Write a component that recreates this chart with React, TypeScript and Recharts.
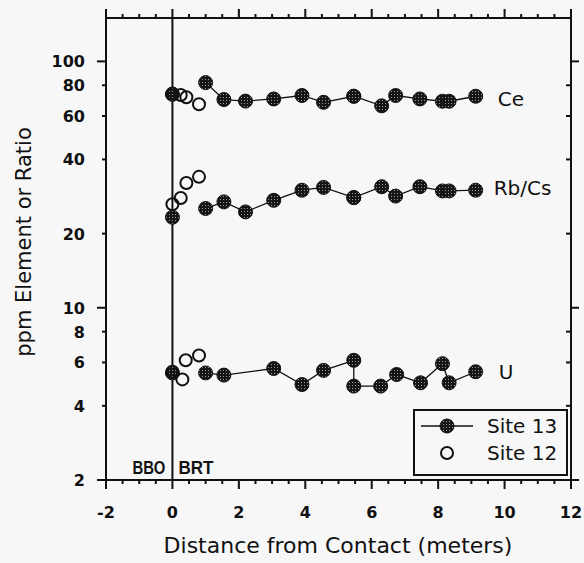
import React from 'react';
import { ScatterChart, Scatter, XAxis, YAxis, ReferenceLine, ReferenceDot, Legend, Label } from 'recharts';

// ---- tick values ----
const xMajorTicks = [-2, 0, 2, 4, 6, 8, 10, 12];
const xAllTicks = [-2, -1.5, -1, -0.5, 0, 0.5, 1, 1.5, 2, 2.5, 3, 3.5, 4, 4.5, 5, 5.5, 6, 6.5, 7, 7.5, 8, 8.5, 9, 9.5, 10, 10.5, 11, 11.5, 12];
const yTicks = [2, 4, 6, 8, 10, 20, 40, 60, 80, 100];
const yMajorTicks = [2, 10, 100];

// ---- Site 13 (filled markers, connected) ----
const site13X = [1.0, 1.55, 2.2, 3.05, 3.9, 4.55, 5.46, 5.46, 6.3, 6.72, 7.45, 8.13, 8.33, 9.13];
const ce13 = [82, 70, 69, 70.4, 72.7, 68.2, 72.2, 72.2, 66, 72.7, 70.4, 68.9, 68.9, 72.2];
const rbcs13 = [25.3, 26.9, 24.5, 27.3, 30.0, 30.8, 28.0, 28.0, 31.0, 28.4, 31.0, 29.8, 29.8, 30.0];
const site13UX = [1.0, 1.55, 3.05, 3.9, 4.55, 5.46, 5.46, 6.27, 6.75, 7.47, 8.13, 8.33, 9.13];
const u13 = [5.44, 5.33, 5.67, 4.88, 5.57, 6.12, 4.81, 4.81, 5.36, 4.96, 5.93, 4.96, 5.5];

// ---- Site 13 at contact (filled, not connected) ----
const contactX = [0, 0, 0];
const contactY = [73.5, 23.3, 5.44];

// ---- Site 12 (open markers) ----
const site12X = [0, 0.25, 0.42, 0.8];
const ce12 = [74, 73, 71.5, 67];
const rbcs12 = [26.3, 27.9, 32.1, 34.0];
const u12X = [0, 0.3, 0.4, 0.8];
const u12 = [5.5, 5.12, 6.12, 6.4];

const toPts = (xs: number[], ys: number[]) => xs.map((x, i) => ({ x, y: ys[i] }));

const INK = '#111';
const BG = '#f7f7f7';
const FONT = '"DejaVu Sans", sans-serif';
const ARIAL = '"Liberation Sans", Arial, sans-serif';

const FilledDot = (p: any) => (
  <circle cx={p.cx} cy={p.cy} r={7} fill="url(#hatch13)" stroke={INK} strokeWidth={1} />
);
const OpenDot = (p: any) => (
  <circle cx={p.cx} cy={p.cy} r={6} fill="none" stroke={INK} strokeWidth={2} />
);

const XTickBottom = (props: any) => {
  const { x, y, payload } = props;
  const v = payload.value;
  const major = xMajorTicks.includes(v);
  return (
    <g>
      <line x1={x} x2={x} y1={y} y2={y + (major ? 9 : 4)} stroke={INK} strokeWidth={2} />
      {major && (
        <text x={x} y={y + 38} textAnchor="middle" fontFamily={FONT} fontWeight="bold" fontSize={16} fill={INK}>
          {v}
        </text>
      )}
    </g>
  );
};

const XTickTop = (props: any) => {
  const { x, y, payload } = props;
  const major = xMajorTicks.includes(payload.value);
  return <line x1={x} x2={x} y1={y} y2={y - (major ? 9 : 4)} stroke={INK} strokeWidth={2} />;
};

const YTickLeft = (props: any) => {
  const { x, y, payload } = props;
  const v = payload.value;
  const major = yMajorTicks.includes(v);
  return (
    <g>
      <line x1={x - (major ? 9 : 4)} x2={x} y1={y} y2={y} stroke={INK} strokeWidth={2} />
      <text x={x - 21} y={y + 6} textAnchor="end" fontFamily={FONT} fontWeight="bold" fontSize={16} fill={INK}>
        {v}
      </text>
    </g>
  );
};

const YTickRight = (props: any) => {
  const { x, y, payload } = props;
  const major = yMajorTicks.includes(payload.value);
  return major ? (
    <line x1={x} x2={x + 8} y1={y} y2={y} stroke={INK} strokeWidth={2} />
  ) : (
    <line x1={x - 5} x2={x} y1={y} y2={y} stroke={INK} strokeWidth={2} />
  );
};

const LegendBox = () => (
  <div style={{ width: 155, height: 67, boxSizing: 'border-box', border: `2px solid ${INK}`, background: BG }}>
    <svg width={151} height={63} style={{ display: 'block' }}>
      <line x1={6} x2={58} y1={15} y2={15} stroke={INK} strokeWidth={1.5} />
      <circle cx={32} cy={15} r={7} fill="url(#hatch13)" stroke={INK} strokeWidth={1} />
      <text x={72} y={22} fontFamily={FONT} fontSize={20} fill={INK}>Site 13</text>
      <circle cx={32} cy={42} r={6} fill="none" stroke={INK} strokeWidth={2} />
      <text x={72} y={49} fontFamily={FONT} fontSize={20} fill={INK}>Site 12</text>
    </svg>
  </div>
);

const seriesLabel = (text: string, dx: number, dy: number) => (p: any) => {
  const vb = p.viewBox || {};
  return (
    <text x={vb.x + dx} y={vb.y + dy} fontFamily={FONT} fontSize={20} fill={INK}>
      {text}
    </text>
  );
};

const contactLabels = (p: any) => {
  const vb = p.viewBox || {};
  return (
    <g>
      <text x={vb.x - 7} y={vb.y - 6} textAnchor="end" fontFamily={ARIAL} fontWeight="bold" fontSize={18} fill={INK} textLength={33} lengthAdjust="spacingAndGlyphs">BBO</text>
      <text x={vb.x + 6} y={vb.y - 6} textAnchor="start" fontFamily={ARIAL} fontWeight="bold" fontSize={18} fill={INK} textLength={35} lengthAdjust="spacingAndGlyphs">BRT</text>
    </g>
  );
};

export default function App() {
  return (
    <div style={{ position: 'fixed', left: 0, top: 0, width: 584, height: 563, background: BG }}>
      <ScatterChart width={584} height={563} margin={{ top: 17, right: 12, bottom: 0, left: 0 }}>
        <defs>
          <pattern id="hatch13" width={3} height={3} patternUnits="userSpaceOnUse">
            <rect width={3} height={3} fill="#151515" />
            <rect x={1} y={1} width={1} height={1} fill="#9a9a9a" />
          </pattern>
        </defs>
        <XAxis
          type="number"
          dataKey="x"
          domain={[-2, 12]}
          ticks={xAllTicks}
          interval={0}
          allowDataOverflow
          height={83}
          tickSize={0}
          tickMargin={0}
          tickLine={false}
          axisLine={{ stroke: INK, strokeWidth: 2 }}
          tick={(p: any) => <XTickBottom {...p} />}
        >
          <Label
            content={() => (
              <text x={338} y={553} textAnchor="middle" fontFamily={FONT} fontSize={22} fill={INK}>
                Distance from Contact (meters)
              </text>
            )}
          />
        </XAxis>
        <XAxis
          xAxisId="top"
          orientation="top"
          type="number"
          dataKey="x"
          domain={[-2, 12]}
          ticks={xAllTicks}
          interval={0}
          allowDataOverflow
          height={1}
          tickSize={0}
          tickMargin={0}
          tickLine={false}
          axisLine={{ stroke: INK, strokeWidth: 2 }}
          tick={(p: any) => <XTickTop {...p} />}
        />
        <YAxis
          type="number"
          dataKey="y"
          scale="log"
          domain={[2, 150]}
          ticks={yTicks}
          interval={0}
          allowDataOverflow
          width={106}
          tickSize={0}
          tickMargin={0}
          tickLine={false}
          axisLine={{ stroke: INK, strokeWidth: 2 }}
          tick={(p: any) => <YTickLeft {...p} />}
        >
          <Label
            content={() => (
              <text transform="translate(31,242) rotate(-90)" textAnchor="middle" fontFamily={FONT} fontSize={21} fill={INK}>
                ppm Element or Ratio
              </text>
            )}
          />
        </YAxis>
        <YAxis
          yAxisId="right"
          orientation="right"
          type="number"
          dataKey="y"
          scale="log"
          domain={[2, 150]}
          ticks={yTicks}
          interval={0}
          allowDataOverflow
          width={1}
          tickSize={0}
          tickMargin={0}
          tickLine={false}
          axisLine={{ stroke: INK, strokeWidth: 2 }}
          tick={(p: any) => <YTickRight {...p} />}
        />
        <ReferenceLine x={0} stroke={INK} strokeWidth={2} />
        <ReferenceDot x={0} y={2} r={0} fill="none" stroke="none" label={contactLabels} />

        <Scatter name="Site 13 Ce" data={toPts(site13X, ce13)} line={{ stroke: INK, strokeWidth: 1.3 }} lineType="joint" shape={FilledDot} isAnimationActive={false} />
        <Scatter name="Site 13 Rb/Cs" data={toPts(site13X, rbcs13)} line={{ stroke: INK, strokeWidth: 1.3 }} lineType="joint" shape={FilledDot} isAnimationActive={false} />
        <Scatter name="Site 13 U" data={toPts(site13UX, u13)} line={{ stroke: INK, strokeWidth: 1.3 }} lineType="joint" shape={FilledDot} isAnimationActive={false} />
        <Scatter name="Site 13 contact" data={toPts(contactX, contactY)} shape={FilledDot} isAnimationActive={false} />
        <Scatter name="Site 12 Ce" xAxisId="top" yAxisId="right" data={toPts(site12X, ce12)} shape={OpenDot} isAnimationActive={false} />
        <Scatter name="Site 12 Rb/Cs" xAxisId="top" yAxisId="right" data={toPts(site12X, rbcs12)} shape={OpenDot} isAnimationActive={false} />
        <Scatter name="Site 12 U" xAxisId="top" yAxisId="right" data={toPts(u12X, u12)} shape={OpenDot} isAnimationActive={false} />

        <ReferenceDot x={9.13} y={72.2} r={0} fill="none" stroke="none" label={seriesLabel('Ce', 22, 10)} />
        <ReferenceDot x={9.13} y={30.0} r={0} fill="none" stroke="none" label={seriesLabel('Rb/Cs', 18, 5)} />
        <ReferenceDot x={9.13} y={5.5} r={0} fill="none" stroke="none" label={seriesLabel('U', 23, 7)} />

        <Legend
          layout="vertical"
          align="center"
          verticalAlign="middle"
          wrapperStyle={{ left: 413, top: 409, width: 155, height: 67, bottom: 'auto', right: 'auto' }}
          content={() => <LegendBox />}
        />
      </ScatterChart>
    </div>
  );
}
